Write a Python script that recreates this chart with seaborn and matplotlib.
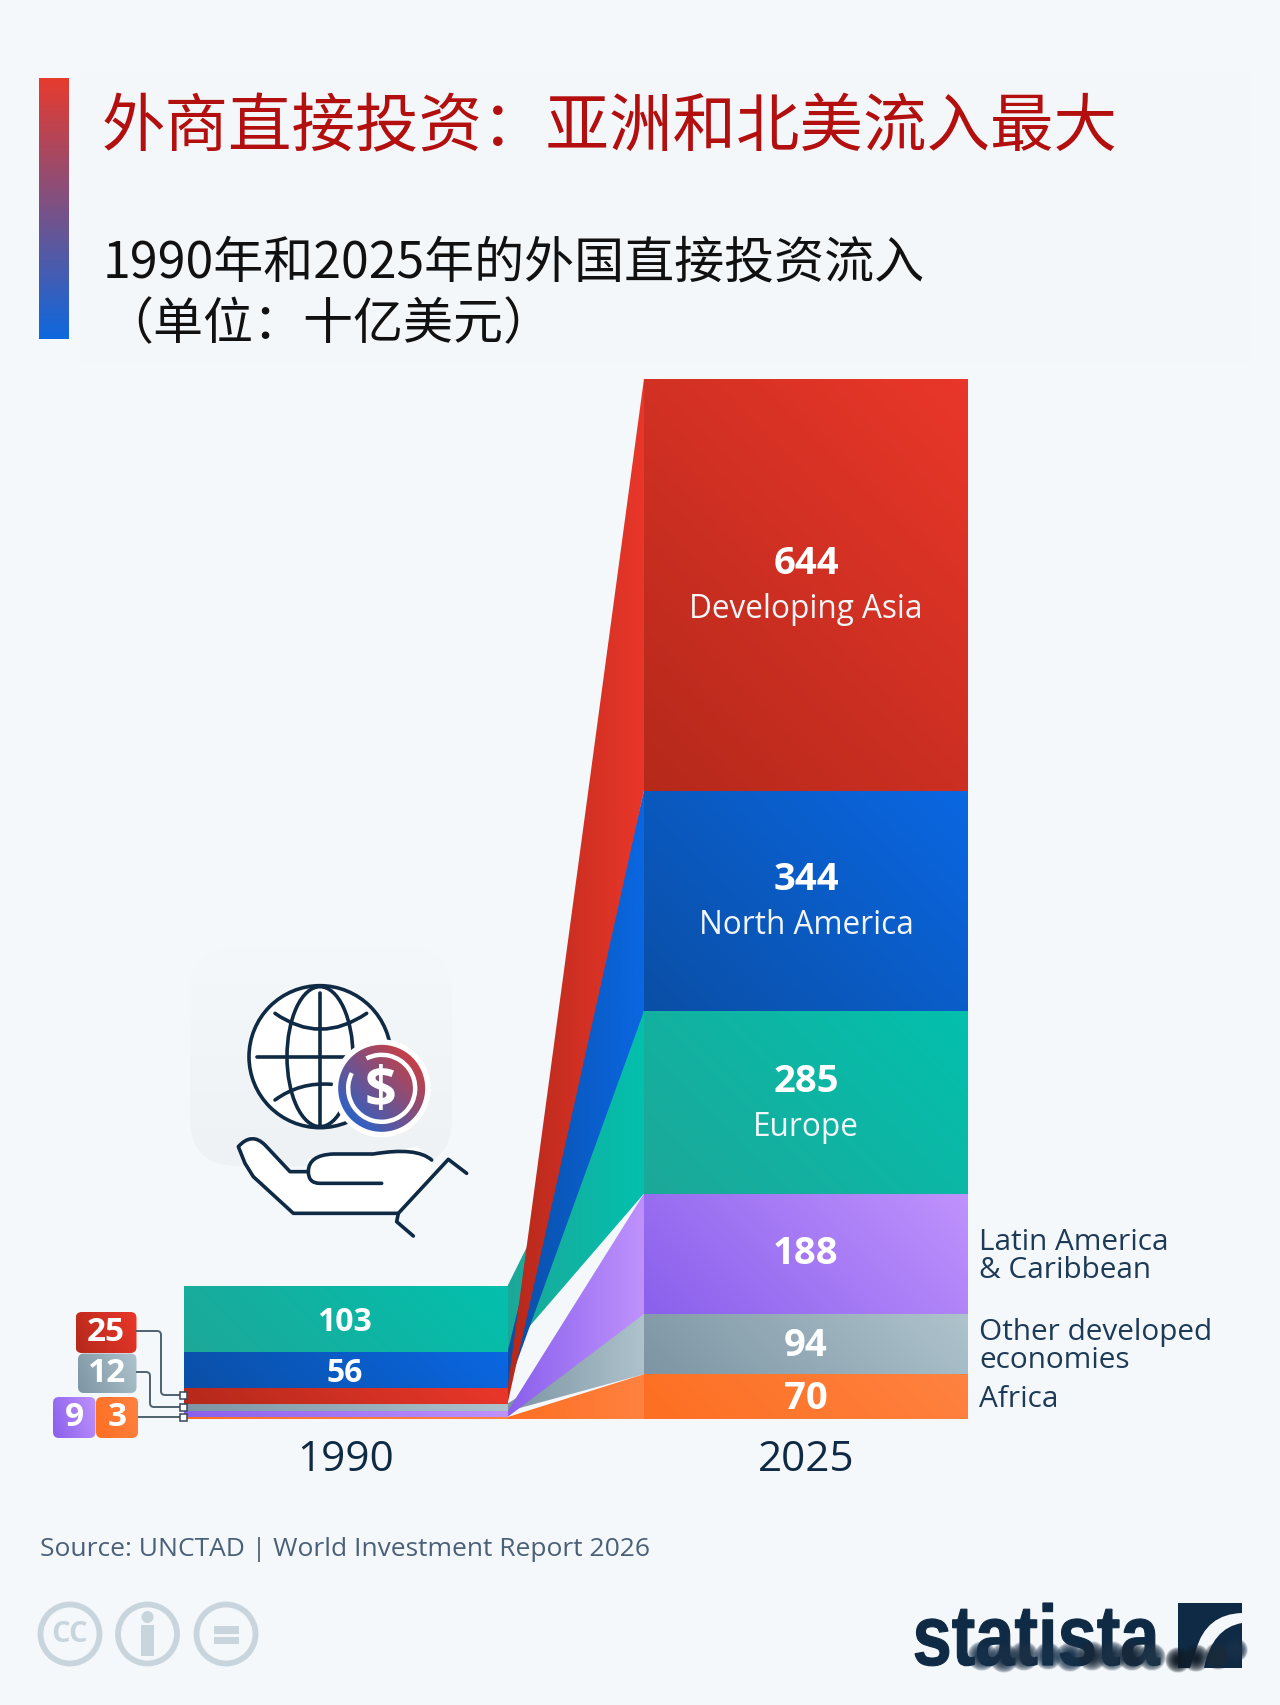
import numpy as np
import pandas as pd
import matplotlib
matplotlib.use("Agg")
import matplotlib.pyplot as plt
import seaborn as sns
from matplotlib.collections import Collection
from matplotlib.colors import LinearSegmentedColormap
from matplotlib.font_manager import FontProperties
from matplotlib.patches import Circle, Ellipse, FancyBboxPatch, PathPatch, Polygon, Rectangle, Arc
from matplotlib.path import Path
from matplotlib.textpath import TextPath
from matplotlib.transforms import Affine2D

# ---- data (billion US$) ----
YEARS = ["1990", "2025"]
REGIONS = ["Developing Asia", "North America", "Europe",
           "Latin America\n& Caribbean", "Other developed\neconomies", "Africa"]
FDI_1990 = [25, 56, 103, 9, 12, 3]
FDI_2025 = [644, 344, 285, 188, 94, 70]
# bottom-to-top stacking order in each year
STACK_1990 = ["Africa", "Latin America\n& Caribbean", "Other developed\neconomies",
              "Developing Asia", "North America", "Europe"]
STACK_2025 = ["Africa", "Other developed\neconomies", "Latin America\n& Caribbean",
              "Europe", "North America", "Developing Asia"]
# painting order of the bands between the two years
FLOW_ORDER = ["Europe", "North America", "Developing Asia",
              "Other developed\neconomies", "Latin America\n& Caribbean", "Africa"]
PALETTE = {
    "Developing Asia": ("#b5291b", "#e9372a"),
    "North America": ("#0a4fa6", "#0a67e2"),
    "Europe": ("#1ca899", "#03c0ad"),
    "Latin America\n& Caribbean": ("#8a60ec", "#bf92fd"),
    "Other developed\neconomies": ("#7d95a4", "#aec3cc"),
    "Africa": ("#fd6f22", "#ff8240"),
}
INK = "#0f2a44"
BG = "#f5f8fb"

sns.set_theme(style="white")
plt.rcParams["font.family"] = ["Open Sans", "Noto Sans CJK SC", "DejaVu Sans"]
CJK = ["Noto Sans CJK SC", "DejaVu Sans"]

W, H = 1280, 1705
fig = plt.figure(figsize=(W / 100, H / 100), dpi=100, facecolor=BG)

# full-page layer measured in pixels, for the header, icons and logo
back = fig.add_axes([0, 0, 1, 1], zorder=0)
back.set_xlim(0, W); back.set_ylim(H, 0); back.axis("off")
front = fig.add_axes([0, 0, 1, 1], zorder=5)
front.set_xlim(0, W); front.set_ylim(H, 0); front.axis("off"); front.patch.set_alpha(0)


def shaded(ax, clip, extent, c0, c1, dx=1.0, dy=0.0, zorder=None):
    """Fill clip with a linear ramp from c0 to c1 along (dx, dy) in image space."""
    xlim, ylim = ax.get_xlim(), ax.get_ylim()
    n = 128
    xx, yy = np.meshgrid(np.linspace(0, 1, n), np.linspace(1, 0, n))
    ramp = (xx * dx + yy * dy) / (abs(dx) + abs(dy))
    cmap = LinearSegmentedColormap.from_list("r", [c0, c1])
    im = ax.imshow(ramp, extent=extent, origin="upper", cmap=cmap, aspect="auto",
                   vmin=0, vmax=1, interpolation="bilinear",
                   zorder=zorder if zorder is not None else clip.get_zorder())
    if isinstance(clip, Collection):
        im.set_clip_path(clip.get_paths()[0], ax.transData)
    else:
        im.set_clip_path(clip)
    ax.set_xlim(xlim); ax.set_ylim(ylim)
    return im


# ---- header ----
back.add_patch(Rectangle((80, 72), 1170, 291, fc="#f4f7fa", ec="none"))
strip = Rectangle((38.5, 78), 30, 261, fc="none", ec="none")
back.add_patch(strip)
shaded(back, strip, (38.5, 68.5, 339, 78), "#0e68de", "#e73b2e", dx=0, dy=1)
back.text(102, 128, "外商直接投资：亚洲和北美流入最大", family=CJK, fontsize=45.7,
          color="#b30f0f", weight="medium", va="center", ha="left")
back.text(103, 264, "1990年和2025年的外国直接投资流入", family=CJK, fontsize=36,
          color="#111111", weight="light", va="center", ha="left")
back.text(103, 325, "（单位：十亿美元）", family=CJK, fontsize=36,
          color="#111111", weight="light", va="center", ha="left")

# ---- stacked bars ----
Y0, Y1 = 1419.0, 378.5
X_LEFT, X_RIGHT = 115.4, 1036.2
ax = fig.add_axes([X_LEFT / W, 1 - Y0 / H, (X_RIGHT - X_LEFT) / W, (Y0 - Y1) / H], zorder=2)
ax.patch.set_alpha(0)

v90 = dict(zip(REGIONS, FDI_1990))
v25 = dict(zip(REGIONS, FDI_2025))
base90 = dict(zip(STACK_1990, np.cumsum([0] + [v90[r] for r in STACK_1990[:-1]])))
base25 = dict(zip(STACK_2025, np.cumsum([0] + [v25[r] for r in STACK_2025[:-1]])))
BAR_W = 0.7037

rows = []
for r in REGIONS:
    rows.append({"year": YEARS[0], "region": r, "value": v90[r], "base": base90[r]})
    rows.append({"year": YEARS[1], "region": r, "value": v25[r], "base": base25[r]})
df = pd.DataFrame(rows)

for r in REGIONS:
    sub = df[df.region == r]
    sns.barplot(data=sub, x="year", y="value", order=YEARS, bottom=sub["base"].to_numpy(),
                width=BAR_W, color=PALETTE[r][1], saturation=1, ax=ax, linewidth=0,
                errorbar=None, zorder=3)

ax.set_xlim(-0.5, 1.5)
ax.set_ylim(0, sum(FDI_2025))
ax.set_xlabel(""); ax.set_ylabel(""); ax.set_yticks([])
sns.despine(ax=ax, left=True, bottom=True)
ax.tick_params(axis="x", length=0, pad=14.5, labelsize=30.4, labelcolor=INK)

# give every bar its diagonal shading, at the same on-screen angle whatever its height
px_per_unit = (Y0 - Y1) / sum(FDI_2025)
px_per_cat = (X_RIGHT - X_LEFT) / 2
for patch in list(ax.patches):
    x, y, w, h = patch.get_x(), patch.get_y(), patch.get_width(), patch.get_height()
    region = df[(df.base == y) & (df.value == h)].region.iloc[0]
    patch.set_facecolor("none")
    shaded(ax, patch, (x, x + w, y, y + h), *PALETTE[region],
           dx=w * px_per_cat, dy=h * px_per_unit, zorder=3)

# bands joining the two stacks
x0, x1 = 0 + BAR_W / 2, 1 - BAR_W / 2
for r in FLOW_ORDER:
    low = [base90[r], base25[r]]
    top = [base90[r] + v90[r], base25[r] + v25[r]]
    band = ax.fill_between([x0, x1], low, top, facecolor="none", edgecolor="none", linewidth=0, zorder=2)
    shaded(ax, band, (x0, x1, 0, sum(FDI_2025)), *PALETTE[r], dx=1, dy=0,
           zorder=2 + 0.01 * FLOW_ORDER.index(r))

# value labels
for r in REGIONS:
    mid90 = base90[r] + v90[r] / 2
    mid25 = base25[r] + v25[r] / 2
    if v90[r] > 50:
        ax.annotate(str(v90[r]), (0, mid90), xytext=(-1, -3), textcoords="offset points",
                    color="white", fontsize=23, weight="bold", ha="center", va="center", zorder=6)
    if v25[r] > 200:
        ax.annotate(str(v25[r]), (1, mid25), xytext=(0, 15), textcoords="offset points",
                    color="white", fontsize=27.5, weight="bold", ha="center", va="center", zorder=6)
        ax.annotate(r, (1, mid25), xytext=(0, -18), textcoords="offset points",
                    color="#f3f6f8", fontsize=22.7, ha="center", va="center", zorder=6)
    else:
        ax.annotate(str(v25[r]), (1, mid25), xytext=(0, -1.5 if v25[r] < 150 else 0), textcoords="offset points",
                    color="white", fontsize=27.5, weight="bold", ha="center", va="center", zorder=6)
        ax.annotate(r, (1 + BAR_W / 2, mid25), xytext=(8, -2), textcoords="offset points",
                    color="#1d3a56", fontsize=21.4, ha="left", va="center", linespacing=0.95,
                    zorder=6, annotation_clip=False)


# ---- call-outs for the thin 1990 layers ----
def tag(x0_, y0_, x1_, y1_, value, region):
    box = FancyBboxPatch((x0_ + 5, y0_ + 5), x1_ - x0_ - 10, y1_ - y0_ - 10,
                         boxstyle="round,pad=5,rounding_size=6", fc="none", ec="none")
    front.add_patch(box)
    shaded(front, box, (x0_, x1_, y1_, y0_), *PALETTE[region], dx=1, dy=0.3, zorder=6)
    front.text((x0_ + x1_) / 2, (y0_ + y1_) / 2, str(value), color="white", fontsize=24,
               weight="bold", ha="center", va="center", zorder=7)


tag(75.7, 1312, 136.5, 1353, v90["Developing Asia"], "Developing Asia")
tag(78, 1353.5, 136.5, 1393, v90["Other developed\neconomies"], "Other developed\neconomies")
tag(53, 1397, 95.5, 1438, v90["Latin America\n& Caribbean"], "Latin America\n& Caribbean")
tag(96, 1397, 138, 1438, v90["Africa"], "Africa")

for pts in ([(136, 1331), (157, 1331), (161, 1331), (161, 1335), (161, 1391), (161, 1395), (165, 1395), (183, 1395)],
            [(136, 1372), (146, 1372), (150, 1372), (150, 1376), (150, 1403), (150, 1407), (154, 1407), (183, 1407)],
            [(138, 1417), (183, 1417)]):
    codes = [Path.MOVETO] + [Path.LINETO] * (len(pts) - 1)
    if len(pts) > 2:
        codes = [Path.MOVETO, Path.LINETO, Path.CURVE3, Path.CURVE3, Path.LINETO, Path.CURVE3, Path.CURVE3, Path.LINETO]
    front.add_patch(PathPatch(Path(pts, codes), fc="none", ec="#4d6170", lw=1.4, zorder=6))
for yy in (1395, 1407, 1417):
    front.add_patch(Rectangle((180, yy - 3.5), 7, 7, fc="white", ec="#33485a", lw=1.1, zorder=7))


# ---- globe-in-hand icon ----
def z(px, py):
    """Icon drawing units to page pixels."""
    return 170 + px / 3, 950 + py / 3


def stroke(points, lw=2.6, zo=6, curve=False):
    pts = [z(*p) for p in points]
    step = Path.CURVE3 if curve else Path.LINETO
    codes = [Path.MOVETO] + [step] * (len(pts) - 1)
    front.add_patch(PathPatch(Path(pts, codes), fc="none", ec=INK, lw=lw, capstyle="round",
                              joinstyle="round", zorder=zo))


plate = FancyBboxPatch((220, 976), 202, 160, boxstyle="round,pad=30,rounding_size=48", fc="none", ec="none")
back.add_patch(plate)
shaded(back, plate, (190, 452, 1166, 946), "#eef2f5", BG, dx=0, dy=1, zorder=1)

cx, cy = z(450, 320)
front.add_patch(Circle((cx, cy), 71, fc="white", ec=INK, lw=2.6, zorder=5.2))
front.add_patch(Ellipse((cx, cy), 66, 140, fc="none", ec=INK, lw=2.6, zorder=5.3))
stroke([(450, 130), (450, 525)], zo=5.3)
stroke([(260, 320), (525, 320)], zo=5.3)
stroke([(315, 190), (450, 285), (590, 190)], curve=True, zo=5.3)
stroke([(315, 450), (390, 395), (485, 403)], curve=True, zo=5.3)

mx, my = z(635, 415)
front.add_patch(Circle((mx, my), 49, fc="white", ec="none", zorder=5.5))
coin = Circle((mx, my), 43.5, fc="none", ec="none")
front.add_patch(coin)
shaded(front, coin, (mx - 44, mx + 44, my + 44, my - 44), "#0f68de", "#e7392c", dx=1, dy=1, zorder=5.6)
front.add_patch(Arc((mx, my), 67, 67, theta1=-117, theta2=207, ec="white", lw=3.2, zorder=5.7))
front.text(mx - 1, my + 3, "$", color="white", fontsize=40, weight="bold", ha="center", va="center", zorder=5.8)

hand = [(785, 630), (740, 590), (610, 612), (490, 612), (415, 625), (415, 665),
        (360, 665), (280, 580), (245, 555), (205, 590), (250, 680), (370, 790), (685, 790), (780, 680)]
front.add_patch(Polygon([z(*p) for p in hand], fc="white", ec="none", zorder=5.1))
verts = [z(*p) for p in [(785, 630), (740, 590), (610, 612), (490, 612), (415, 615), (415, 665),
                         (415, 700), (450, 700), (635, 700)]]
front.add_patch(PathPatch(Path(verts, [Path.MOVETO, Path.CURVE3, Path.CURVE3, Path.LINETO,
                                       Path.CURVE3, Path.CURVE3, Path.CURVE3, Path.CURVE3, Path.LINETO]),
                          fc="none", ec=INK, lw=2.6, capstyle="round", zorder=5.3))
verts = [z(*p) for p in [(415, 665), (360, 665), (285, 585), (245, 545), (205, 590), (225, 640),
                         (250, 680), (370, 790), (685, 790), (835, 628), (890, 670)]]
front.add_patch(PathPatch(Path(verts, [Path.MOVETO, Path.LINETO, Path.LINETO, Path.CURVE3, Path.CURVE3,
                                       Path.LINETO, Path.LINETO, Path.LINETO, Path.LINETO, Path.LINETO, Path.LINETO]),
                          fc="none", ec=INK, lw=2.6, capstyle="round", joinstyle="round", zorder=5.3))
stroke([(685, 790), (680, 815), (730, 858)], zo=5.3)

# ---- footer ----
front.text(40, 1550, "Source: UNCTAD | World Investment Report 2026", fontsize=19,
           color="#4a6078", ha="left", va="center")
CC = "#c9d5dd"
for cxx in (70, 147.5, 226):
    front.add_patch(Circle((cxx, 1634), 29.5, fc="none", ec=CC, lw=4.2))
front.text(70, 1634, "CC", color=CC, fontsize=21, weight="bold", ha="center", va="center")
front.add_patch(Circle((147.5, 1617), 6, fc=CC, ec="none"))
front.add_patch(Rectangle((141, 1625), 13, 31, fc=CC, ec="none"))
front.add_patch(Rectangle((214, 1626), 25, 8, fc=CC, ec="none"))
front.add_patch(Rectangle((214, 1637), 25, 7, fc=CC, ec="none"))

# wordmark, squeezed to the logo's box
word = TextPath((0, 0), "statista", size=100,
                prop=FontProperties(family="Liberation Sans", weight="bold"))
bb = word.get_extents()
fit = (Affine2D().translate(-bb.x0, 0)
       .scale(245 / bb.width, -62 / bb.y1)
       .translate(915, 1665))
front.add_patch(PathPatch(word, transform=fit + front.transData, fc=INK, ec=INK, lw=0.8))
front.add_patch(Rectangle((1178, 1603), 64, 65, fc=INK, ec="none"))
swoosh = Path([(1242, 1613), (1206, 1614), (1196, 1650), (1190, 1668), (1204, 1668), (1212, 1628), (1242, 1623), (1242, 1613)],
              [Path.MOVETO, Path.CURVE3, Path.CURVE3, Path.LINETO, Path.LINETO, Path.CURVE3, Path.CURVE3, Path.CLOSEPOLY])
front.add_patch(PathPatch(swoosh, fc=BG, ec="none"))

# soft dark smears across the foot of the logo
rr, cc_ = np.mgrid[-1:1:64j, -1:1:64j]
soft = np.clip(1 - (rr ** 2 + cc_ ** 2), 0, 1) ** 0.6
for bx, by, br, col in [(982, 1656, 15, "#16304a"), (1004, 1658, 15, "#182f46"), (1024, 1656, 15, "#1b3044"),
                        (1048, 1656, 14, "#16304a"), (1070, 1657, 15, "#16304a"), (1092, 1656, 15, "#18283a"),
                        (1112, 1656, 15, "#1a3045"), (1132, 1656, 15, "#18283a"), (1152, 1657, 14, "#1f3548"),
                        (1178, 1660, 13, "#101c28"), (1196, 1658, 14, "#111f2c"), (1218, 1656, 14, "#1a2a3a"),
                        (1236, 1650, 12, "#18304a")]:
    rgba = np.zeros((64, 64, 4))
    rgba[..., :3] = matplotlib.colors.to_rgb(col)
    rgba[..., 3] = soft
    front.imshow(rgba, extent=(bx - br, bx + br, by + br, by - br), aspect="auto", zorder=6,
                 interpolation="bilinear")
front.set_xlim(0, W); front.set_ylim(H, 0)

fig.savefig("out.png", dpi=100, facecolor=BG)
